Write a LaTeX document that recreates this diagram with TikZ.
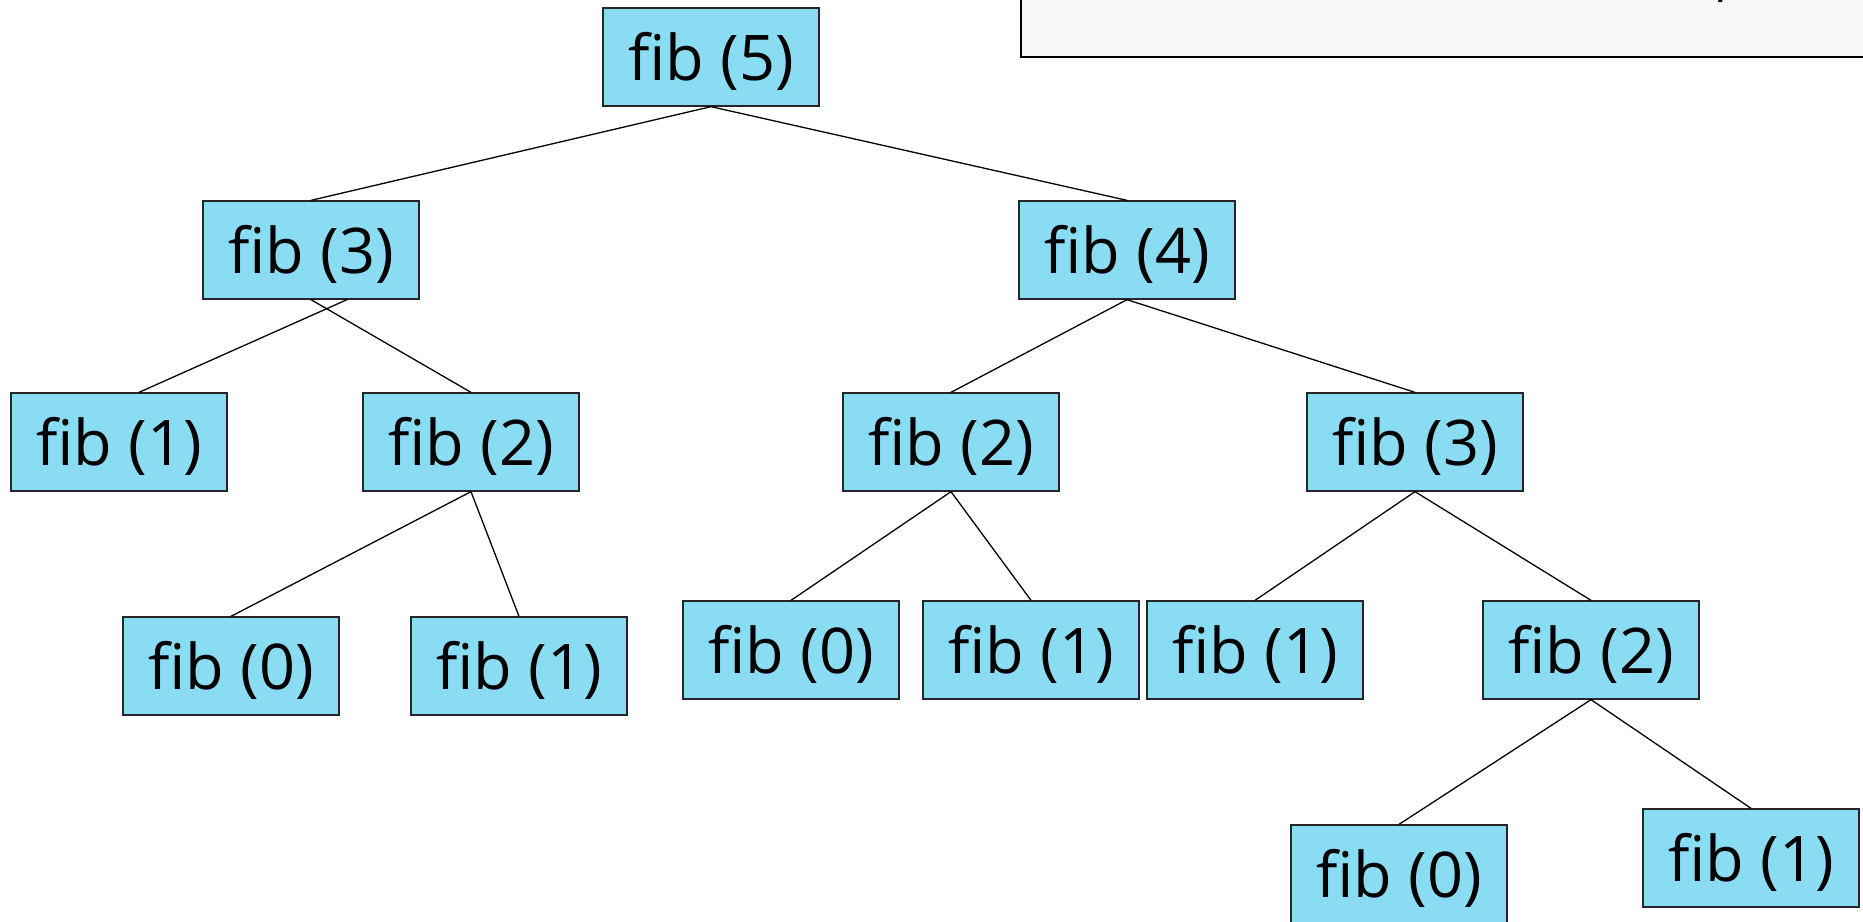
\documentclass[tikz,border=0pt]{standalone}
\usepackage{fontspec}
\setmainfont{Open Sans}
\definecolor{boxblue}{RGB}{138,220,242}
\definecolor{panelgray}{RGB}{247,247,247}
\tikzset{
  fibbox/.style={draw=black!85, line width=1.3pt, fill=boxblue,
    minimum width=216pt, minimum height=98pt, inner sep=0pt,
    font=\fontsize{63}{70}\selectfont, text height=47pt, text depth=0pt},
  treeedge/.style={draw=black, line width=1.3pt},
  panelbox/.style={draw=black, line width=2pt, fill=panelgray}
}
\begin{document}
\begin{tikzpicture}[x=1pt, y=-1pt]
\useasboundingbox (0,0) rectangle (1863,921);
% partial panel at top right
\path[panelbox] (1021,-20) rectangle (1890,57);
\node[anchor=base, inner sep=0pt, font=\fontsize{63}{70}\selectfont] (comma) at (1724,-6) {,};
% nodes
\node[fibbox] (f5)  at (711,57)   {fib (5)};
\node[fibbox] (f3)  at (311,250)  {fib (3)};
\node[fibbox] (f4)  at (1127,250) {fib (4)};
\node[fibbox] (f1a) at (119,442)  {fib (1)};
\node[fibbox] (f2a) at (471,442)  {fib (2)};
\node[fibbox] (f2b) at (951,442)  {fib (2)};
\node[fibbox] (f3b) at (1415,442) {fib (3)};
\node[fibbox] (f0a) at (231,666)  {fib (0)};
\node[fibbox] (f1b) at (519,666)  {fib (1)};
\node[fibbox] (f0b) at (791,650)  {fib (0)};
\node[fibbox] (f1c) at (1031,650) {fib (1)};
\node[fibbox] (f1d) at (1255,650) {fib (1)};
\node[fibbox] (f2c) at (1591,650) {fib (2)};
\node[fibbox] (f0c) at (1399,874) {fib (0)};
\node[fibbox] (f1e) at (1751,858) {fib (1)};
% edges
\draw[treeedge] (f5.south) -- (f3.north);
\draw[treeedge] (f5.south) -- (f4.north);
\draw[treeedge] ([xshift=36pt]f3.south) -- ([xshift=20pt]f1a.north);
\draw[treeedge] (f3.south) -- (f2a.north);
\draw[treeedge] (f2a.south) -- (f0a.north);
\draw[treeedge] (f2a.south) -- (f1b.north);
\draw[treeedge] (f4.south) -- (f2b.north);
\draw[treeedge] (f4.south) -- (f3b.north);
\draw[treeedge] (f2b.south) -- (f0b.north);
\draw[treeedge] (f2b.south) -- (f1c.north);
\draw[treeedge] (f3b.south) -- (f1d.north);
\draw[treeedge] (f3b.south) -- (f2c.north);
\draw[treeedge] (f2c.south) -- (f0c.north);
\draw[treeedge] (f2c.south) -- (f1e.north);
\end{tikzpicture}
\end{document}
